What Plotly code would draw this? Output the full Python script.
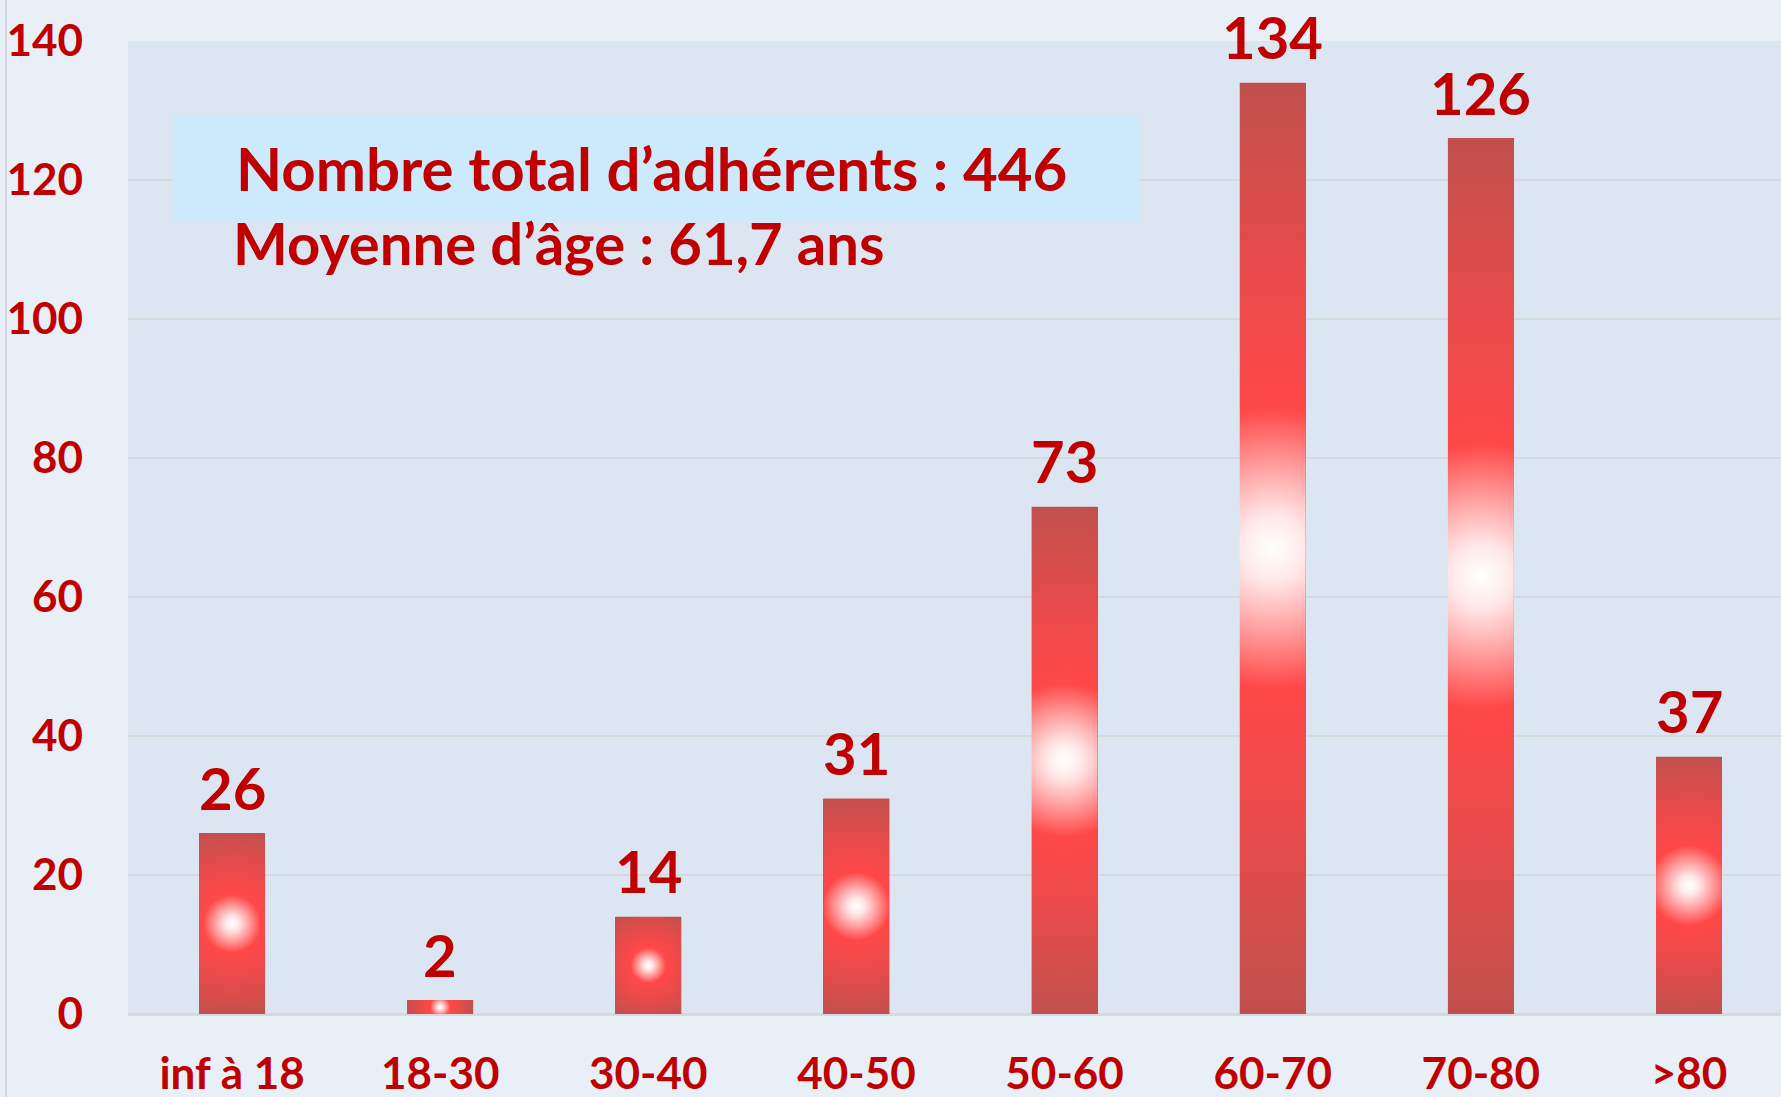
import math
import plotly.graph_objects as go

# ---------------- data ----------------
categories = ["inf à 18", "18-30", "30-40", "40-50", "50-60", "60-70", "70-80", ">80"]
values = [26, 2, 14, 31, 73, 134, 126, 37]
y_ticks = [0, 20, 40, 60, 80, 100, 120, 140]
info_line1 = "Nombre total d’adhérents : 446"
info_line2 = "Moyenne d’âge : 61,7 ans"

# ---------------- layout constants ----------------
W, H = 1781, 1097
ML, MR, MT, MB = 128, 0, 41, 83
PW, PH = W - ML - MR, H - MT - MB
X_RANGE = [-0.5, 7.442]
Y_RANGE = [0, 140]
BAR_W = 0.317
RED = "#C00000"
FONT = "Lato, Calibri, Carlito, sans-serif"

xpx = PW / (X_RANGE[1] - X_RANGE[0])   # pixels per x unit
ypx = PH / (Y_RANGE[1] - Y_RANGE[0])   # pixels per y unit

def paper_x(px):
    return (px - ML) / PW

def paper_y(py):
    return (MT + PH - py) / PH

idx = list(range(len(categories)))

fig = go.Figure()

# real bars (base colour)
fig.add_trace(go.Bar(
    x=idx, y=values, width=BAR_W,
    marker=dict(color="#C0504D", line=dict(width=0)),
    hoverinfo="x+y", showlegend=False,
))

# radial "path" gradient overlay on each bar (zero-area spikes make the gradient box square)
grad_scale = [
    [0.0, "#FFFFFF"],
    [0.07, "#FFE8E8"],
    [0.17, "#FFA4A4"],
    [0.30, "#FF4848"],
    [0.55, "#EC4A4A"],
    [1.0, "#C0504D"],
]
for i, v in zip(idx, values):
    hw = BAR_W * xpx / 2
    hh = v * ypx / 2
    R = math.hypot(hw, hh)
    rx, ry = R / xpx, R / ypx
    x0, x1, xc, yc = i - BAR_W / 2, i + BAR_W / 2, i, v / 2
    xs = [x0, xc, xc, xc, x1, x1, xc + rx, x1, x1, xc, xc, xc, x0, x0, xc - rx, x0, x0]
    ys = [0, 0, yc - ry, 0, 0, yc, yc, yc, v, v, yc + ry, v, v, yc, yc, yc, 0]
    fig.add_trace(go.Scatter(
        x=xs, y=ys, mode="none", fill="toself",
        fillgradient=dict(type="radial", colorscale=grad_scale),
        line=dict(simplify=False, width=0),
        hoverinfo="skip", showlegend=False,
    ))

# value labels
for i, v in zip(idx, values):
    fig.add_annotation(
        x=i, y=v, xref="x", yref="y", text=str(v), showarrow=False,
        yanchor="middle", yshift=46,
        font=dict(family=FONT, size=58, color=RED, weight="bold"),
    )

# info box
fig.add_shape(
    type="rect", xref="paper", yref="paper",
    x0=paper_x(173), x1=paper_x(1139), y0=paper_y(221), y1=paper_y(116),
    fillcolor="#CCEAFB", line=dict(width=0), layer="above",
)
fig.add_annotation(
    xref="paper", yref="paper", x=paper_x(234), y=paper_y(168),
    xanchor="left", yanchor="middle", text=info_line1, showarrow=False,
    font=dict(family=FONT, size=60, color=RED, weight="bold"),
)
fig.add_annotation(
    xref="paper", yref="paper", x=paper_x(231), y=paper_y(242),
    xanchor="left", yanchor="middle", text=info_line2, showarrow=False,
    font=dict(family=FONT, size=58, color=RED, weight="bold"),
)

# left border line of chart area
fig.add_shape(
    type="line", xref="paper", yref="paper",
    x0=paper_x(6), x1=paper_x(6), y0=-0.2, y1=1.2,
    line=dict(color="#D4D7DB", width=2),
)

fig.update_layout(
    width=W, height=H,
    margin=dict(l=ML, r=MR, t=MT, b=MB, pad=0, autoexpand=False),
    paper_bgcolor="#E9EFF7",
    plot_bgcolor="#DCE6F2",
    showlegend=False,
    bargap=0,
    xaxis=dict(
        range=X_RANGE, tickmode="array", tickvals=idx, ticktext=categories,
        showgrid=False, zeroline=False, showline=False, ticks="",
        ticklabelstandoff=30, automargin=False,
        tickfont=dict(family=FONT, size=44, color=RED, weight="bold"),
        fixedrange=True,
    ),
    yaxis=dict(
        range=Y_RANGE, tickmode="array", tickvals=y_ticks,
        ticktext=[str(t) for t in y_ticks],
        showgrid=True, gridcolor="#D6D9DD", gridwidth=2,
        zeroline=True, zerolinecolor="#D6D9DD", zerolinewidth=3,
        showline=False, ticks="", ticklabelstandoff=44, automargin=False,
        tickfont=dict(family=FONT, size=44, color=RED, weight="bold"),
        fixedrange=True,
    ),
)

fig.write_html(
    "out.html",
    config={"displayModeBar": False},
    post_script="document.body.style.margin='0';document.body.style.overflow='hidden';",
)
